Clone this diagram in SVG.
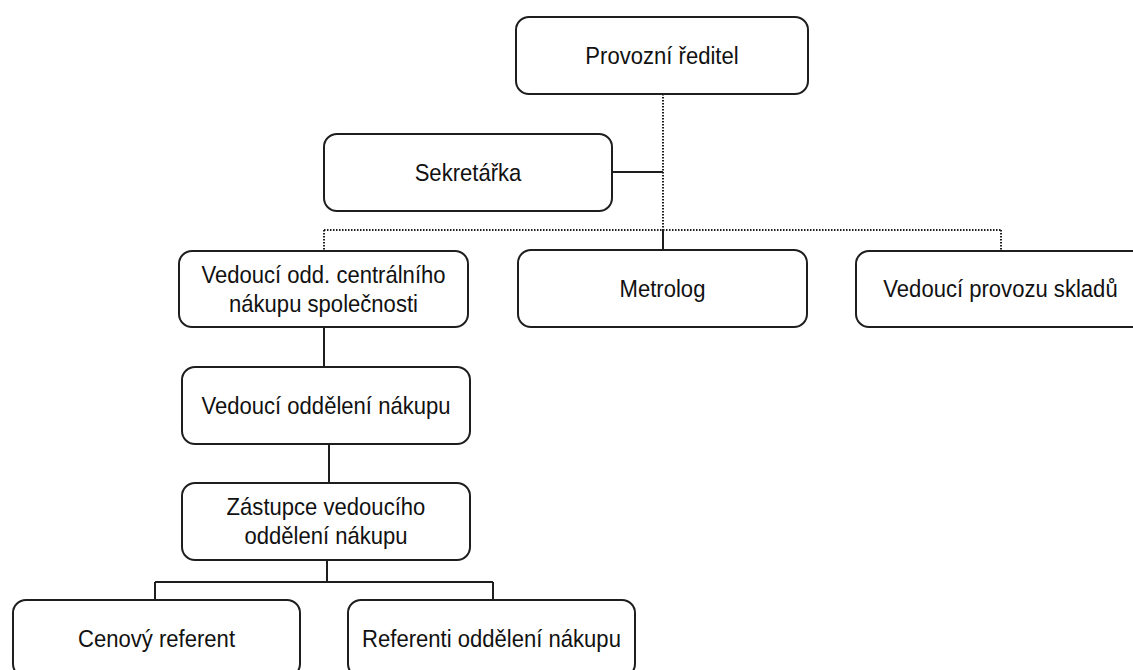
<svg xmlns="http://www.w3.org/2000/svg" width="1133" height="670" viewBox="0 0 1133 670">
  <style>
    .box { fill: #ffffff; stroke: #1e1e1e; stroke-width: 2; }
    .lbl { font-family: "Liberation Sans", Arial, sans-serif; font-size: 24px; fill: #111111; text-anchor: middle;
           transform-box: fill-box; transform-origin: center; transform: scaleX(0.92); }
    .solid { fill: none; stroke: #1e1e1e; stroke-width: 2; }
    .dotted { fill: none; stroke: #1e1e1e; stroke-width: 2; stroke-dasharray: 1.5 1.5; }
  </style>
  <rect width="1133" height="670" fill="#ffffff"/>

  <!-- connectors -->
  <g id="connectors">
    <path class="dotted" d="M663 94 V230"/>
    <path class="dotted" d="M324 230 H1001"/>
    <path class="dotted" d="M324 230 V251"/>
    <path class="dotted" d="M1001 230 V251"/>
    <path class="solid" d="M612 172 H663"/>
    <path class="solid" d="M663 230 V250"/>
    <path class="solid" d="M324 327 V367"/>
    <path class="solid" d="M329 444 V483"/>
    <path class="solid" d="M327 560 V582"/>
    <path class="solid" d="M155 582 H493"/>
    <path class="solid" d="M155 582 V600"/>
    <path class="solid" d="M493 582 V600"/>
  </g>

  <g id="provozni-reditel">
    <rect class="box" x="516" y="17" width="292" height="77" rx="13"/>
    <text class="lbl" x="662" y="64">Provozní ředitel</text>
  </g>

  <g id="sekretarka">
    <rect class="box" x="324" y="134" width="288" height="77" rx="13"/>
    <text class="lbl" x="468" y="181">Sekretářka</text>
  </g>

  <g id="vedouci-centralniho-nakupu">
    <rect class="box" x="179" y="251" width="289" height="76" rx="13"/>
    <text class="lbl" x="323.5" y="283">Vedoucí odd. centrálního</text>
    <text class="lbl" x="323.5" y="312">nákupu společnosti</text>
  </g>

  <g id="metrolog">
    <rect class="box" x="518" y="250" width="289" height="77" rx="13"/>
    <text class="lbl" x="662.5" y="297">Metrolog</text>
  </g>

  <g id="vedouci-provozu-skladu">
    <rect class="box" x="856" y="251" width="289" height="76" rx="13"/>
    <text class="lbl" x="1000.5" y="297.5">Vedoucí provozu skladů</text>
  </g>

  <g id="vedouci-oddeleni-nakupu">
    <rect class="box" x="182" y="367" width="288" height="77" rx="13"/>
    <text class="lbl" x="326" y="414">Vedoucí oddělení nákupu</text>
  </g>

  <g id="zastupce-vedouciho">
    <rect class="box" x="182" y="483" width="288" height="77" rx="13"/>
    <text class="lbl" x="326" y="515.5">Zástupce vedoucího</text>
    <text class="lbl" x="326" y="544">oddělení nákupu</text>
  </g>

  <g id="cenovy-referent">
    <rect class="box" x="13" y="600" width="287" height="77" rx="13"/>
    <text class="lbl" x="156.5" y="647">Cenový referent</text>
  </g>

  <g id="referenti-oddeleni-nakupu">
    <rect class="box" x="348" y="600" width="287" height="77" rx="13"/>
    <text class="lbl" x="491.5" y="647">Referenti oddělení nákupu</text>
  </g>
</svg>
